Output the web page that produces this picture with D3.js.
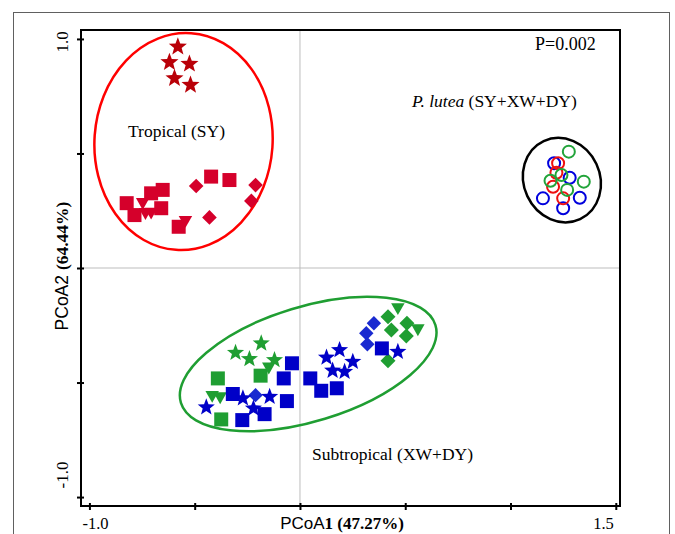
<!DOCTYPE html>
<html>
<head>
<meta charset="utf-8">
<script src="https://cdn.jsdelivr.net/npm/d3@7"></script>
<style>
  html, body { margin: 0; padding: 0; background: #fff; }
  svg { display: block; }
</style>
</head>
<body>
<svg id="chart" width="675" height="534"></svg>
<script>
// ---------------- DATA ----------------
const xTicks = [-1.0, -0.5, 0, 0.5, 1.0, 1.5];
const yTicks = [1.0, 0.5, 0, -0.5, -1.0];
const xTickLabels = ["-1.0", "1.5"];           // labelled x ticks
const yTickLabels = ["1.0", "-1.0"];           // labelled y ticks
const xTitleA = "PCoA", xTitleB = "1 (47.27%)";
const yTitleA = "PCoA2 ", yTitleB = "(64.44%)";
const pValue = "P=0.002";
const groupLabels = ["Tropical (SY)", "Subtropical (XW+DY)", "P. lutea", " (SY+XW+DY)"];

// Tropical (SY) – red
const sySt  = [[-0.580,0.966],[-0.620,0.898],[-0.525,0.891],[-0.596,0.828],[-0.520,0.799]];
const sySq  = [[-0.823,0.283],[-0.786,0.231],[-0.707,0.326],[-0.652,0.341],[-0.659,0.261],[-0.576,0.180],[-0.422,0.399],[-0.335,0.384]];
const syTri = [[-0.747,0.283],[-0.734,0.239],[-0.707,0.241],[-0.544,0.205]];
const syDia = [[-0.493,0.358],[-0.211,0.362],[-0.231,0.293],[-0.430,0.221]];

// Subtropical – XW (blue)
const xwSt  = [[-0.445,-0.608],[-0.271,-0.569],[-0.221,-0.613],[-0.144,-0.562],[0.126,-0.391],[0.155,-0.448],[0.188,-0.358],[0.212,-0.453],[0.251,-0.409],[0.465,-0.366]];
const xwSq  = [[-0.319,-0.550],[-0.274,-0.664],[-0.168,-0.638],[-0.062,-0.581],[-0.038,-0.416],[-0.077,-0.482],[0.049,-0.482],[0.101,-0.536],[0.175,-0.525],[0.389,-0.351]];
const xwDia = [[-0.211,-0.555],[0.351,-0.241],[0.315,-0.285],[0.320,-0.333]];

// Subtropical – DY (green)
const dySt  = [[-0.306,-0.370],[-0.184,-0.329],[-0.240,-0.397],[-0.121,-0.402]];
const dyTri = [[-0.148,-0.435],[-0.417,-0.559],[-0.379,-0.565],[0.465,-0.176],[0.560,-0.268]];
const dySq  = [[-0.390,-0.482],[-0.187,-0.470],[-0.374,-0.661]];
const dyDia = [[0.418,-0.213],[0.508,-0.241],[0.434,-0.271],[0.505,-0.297],[0.418,-0.405]];

// P. lutea – open circles
const plXW = [[1.207,0.457],[1.281,0.394],[1.154,0.304],[1.329,0.307],[1.250,0.261]];
const plSY = [[1.226,0.457],[1.218,0.416],[1.202,0.355],[1.250,0.304]];
const plDY = [[1.277,0.508],[1.190,0.381],[1.242,0.406],[1.348,0.377],[1.269,0.341]];

// Ellipses: centre (data), semi-axes (rx in x units, ry in y units), rotation (deg)
const ellCx = [-0.553, 0.039, 1.244];
const ellCy = [0.552, -0.419, 0.384];
const ellRx = [0.423, 0.632, 0.181];
const ellRy = [0.474, 0.250, 0.188];
const ellRot = [4, -17, -25];

// ---------------- SETUP ----------------
const svg = d3.select("#chart");
const L = 81, R = 620, T = 30, B = 506;
const x = d3.scaleLinear().domain([-1.04, 1.52]).range([L, R]);
const y = d3.scaleLinear().domain([-1.039, 1.039]).range([B, T]);
const kx = x(1) - x(0), ky = y(0) - y(1);

const SERIF = "'Liberation Serif','Times New Roman',serif";
const SANS = "'Liberation Sans',Arial,sans-serif";

// outer frame
svg.append("rect").attr("x", 13.5).attr("y", 12.5).attr("width", 656).attr("height", 600)
  .attr("fill", "none").attr("stroke", "#606060").attr("stroke-width", 1);

// reference lines at 0
svg.append("line").attr("x1", x(0)).attr("x2", x(0)).attr("y1", T).attr("y2", B)
  .attr("stroke", "#bdbdbd").attr("stroke-width", 1);
svg.append("line").attr("x1", L).attr("x2", R).attr("y1", y(0)).attr("y2", y(0))
  .attr("stroke", "#bdbdbd").attr("stroke-width", 1);

// axes
const gx = svg.append("g").attr("transform", `translate(0,${B})`)
  .call(d3.axisBottom(x).tickValues(xTicks).tickFormat("").tickSizeOuter(0));
gx.selectAll(".tick line").attr("y1", -3).attr("y2", 4).attr("stroke", "#000").attr("stroke-width", 2);
gx.select(".domain").remove();
const gy = svg.append("g").attr("transform", `translate(${L},0)`)
  .call(d3.axisLeft(y).tickValues(yTicks).tickFormat("").tickSizeOuter(0));
gy.selectAll(".tick line").attr("x1", -4).attr("x2", 3).attr("stroke", "#000").attr("stroke-width", 2);
gy.select(".domain").remove();

// plot box
svg.append("rect").attr("x", L).attr("y", T).attr("width", R - L).attr("height", B - T)
  .attr("fill", "none").attr("stroke", "#000").attr("stroke-width", 2);

// tick labels
svg.append("text").attr("x", x(-1.0) - 7).attr("y", 529).attr("font-family", SERIF)
  .attr("font-size", 16.5).attr("text-anchor", "start").text(xTickLabels[0]);
svg.append("text").attr("x", x(1.5) - 2).attr("y", 529).attr("font-family", SERIF)
  .attr("font-size", 16.5).attr("text-anchor", "end").text(xTickLabels[1]);
svg.append("text").attr("transform", `translate(68,${y(1.0) + 3}) rotate(-90)`)
  .attr("font-family", SERIF).attr("font-size", 17).attr("text-anchor", "middle").text(yTickLabels[0]);
svg.append("text").attr("transform", `translate(68,${y(-1.0) - 22}) rotate(-90)`)
  .attr("font-family", SERIF).attr("font-size", 17).attr("text-anchor", "middle").text(yTickLabels[1]);

// axis titles
const xt = svg.append("text").attr("x", 342).attr("y", 529).attr("text-anchor", "middle");
xt.append("tspan").attr("font-family", SANS).attr("font-size", 17).text(xTitleA);
xt.append("tspan").attr("font-family", SERIF).attr("font-weight", "bold").attr("font-size", 17).text(xTitleB);
const yt = svg.append("text").attr("transform", `translate(68,266) rotate(-90)`).attr("text-anchor", "middle");
yt.append("tspan").attr("font-family", SANS).attr("font-size", 17.5).text(yTitleA);
yt.append("tspan").attr("font-family", SERIF).attr("font-weight", "bold").attr("font-size", 17.5).text(yTitleB);

// P value and group labels
svg.append("text").attr("x", 535).attr("y", 50).attr("font-family", SERIF).attr("font-size", 18).text(pValue);
svg.append("text").attr("x", 128).attr("y", 137).attr("font-family", SERIF).attr("font-size", 17.5).text(groupLabels[0]);
svg.append("text").attr("x", 312).attr("y", 460).attr("font-family", SERIF).attr("font-size", 17.5).text(groupLabels[1]);
const pl = svg.append("text").attr("x", 412).attr("y", 107).attr("font-family", SERIF).attr("font-size", 17.5);
pl.append("tspan").attr("font-style", "italic").text(groupLabels[2]);
pl.append("tspan").text(groupLabels[3]);

// ellipses
const ellColors = ["#ff0000", "#1f9e32", "#000000"];
ellCx.forEach((cx, i) => {
  svg.append("ellipse")
    .attr("transform", `translate(${x(cx)},${y(ellCy[i])}) rotate(${ellRot[i]})`)
    .attr("rx", ellRx[i] * kx).attr("ry", ellRy[i] * ky)
    .attr("fill", "none").attr("stroke", ellColors[i]).attr("stroke-width", 2.5);
});

// ---------------- MARKERS ----------------
function starPath(r) {
  const ri = r * 0.42; let p = "";
  for (let k = 0; k < 10; k++) {
    const a = -Math.PI / 2 + k * Math.PI / 5, rr = k % 2 ? ri : r;
    p += (k ? "L" : "M") + (rr * Math.cos(a)).toFixed(2) + "," + (rr * Math.sin(a)).toFixed(2);
  }
  return p + "Z";
}
const squarePath = s => `M${-s/2},${-s/2}h${s}v${s}h${-s}Z`;
const diamondPath = d => `M0,${-d}L${d},0L0,${d}L${-d},0Z`;
const triDownPath = w => `M${-w/2},${-w*0.38}L${w/2},${-w*0.38}L0,${w*0.5}Z`;

const RED = "#d5002b", RED_ST = "#b90008", BLUE = "#0000c8", GREEN = "#1f9e32";
const series = [
  { d: sySq, p: squarePath(14), c: RED },
  { d: syTri, p: triDownPath(13.5), c: RED },
  { d: syDia, p: diamondPath(7.3), c: RED },
  { d: sySt, p: starPath(9.5), c: RED_ST },
  { d: dySq, p: squarePath(14), c: GREEN },
  { d: dyTri, p: triDownPath(13.5), c: GREEN },
  { d: dyDia, p: diamondPath(7.5), c: GREEN },
  { d: xwSq, p: squarePath(14), c: BLUE },
  { d: xwDia, p: diamondPath(7.2), c: "#1a2ad0" },
  { d: dySt, p: starPath(9), c: GREEN },
  { d: xwSt, p: starPath(9), c: BLUE }
];
series.forEach(s => {
  svg.append("g").selectAll("path").data(s.d).join("path")
    .attr("transform", d => `translate(${x(d[0])},${y(d[1])})`)
    .attr("d", s.p).attr("fill", s.c);
});

const circles = [
  { d: plXW, c: "#0000dd" },
  { d: plSY, c: "#ee1111" },
  { d: plDY, c: "#22a43a" }
];
circles.forEach(s => {
  svg.append("g").selectAll("circle").data(s.d).join("circle")
    .attr("cx", d => x(d[0])).attr("cy", d => y(d[1])).attr("r", 6)
    .attr("fill", "none").attr("stroke", s.c).attr("stroke-width", 2);
});
</script>
</body>
</html>
